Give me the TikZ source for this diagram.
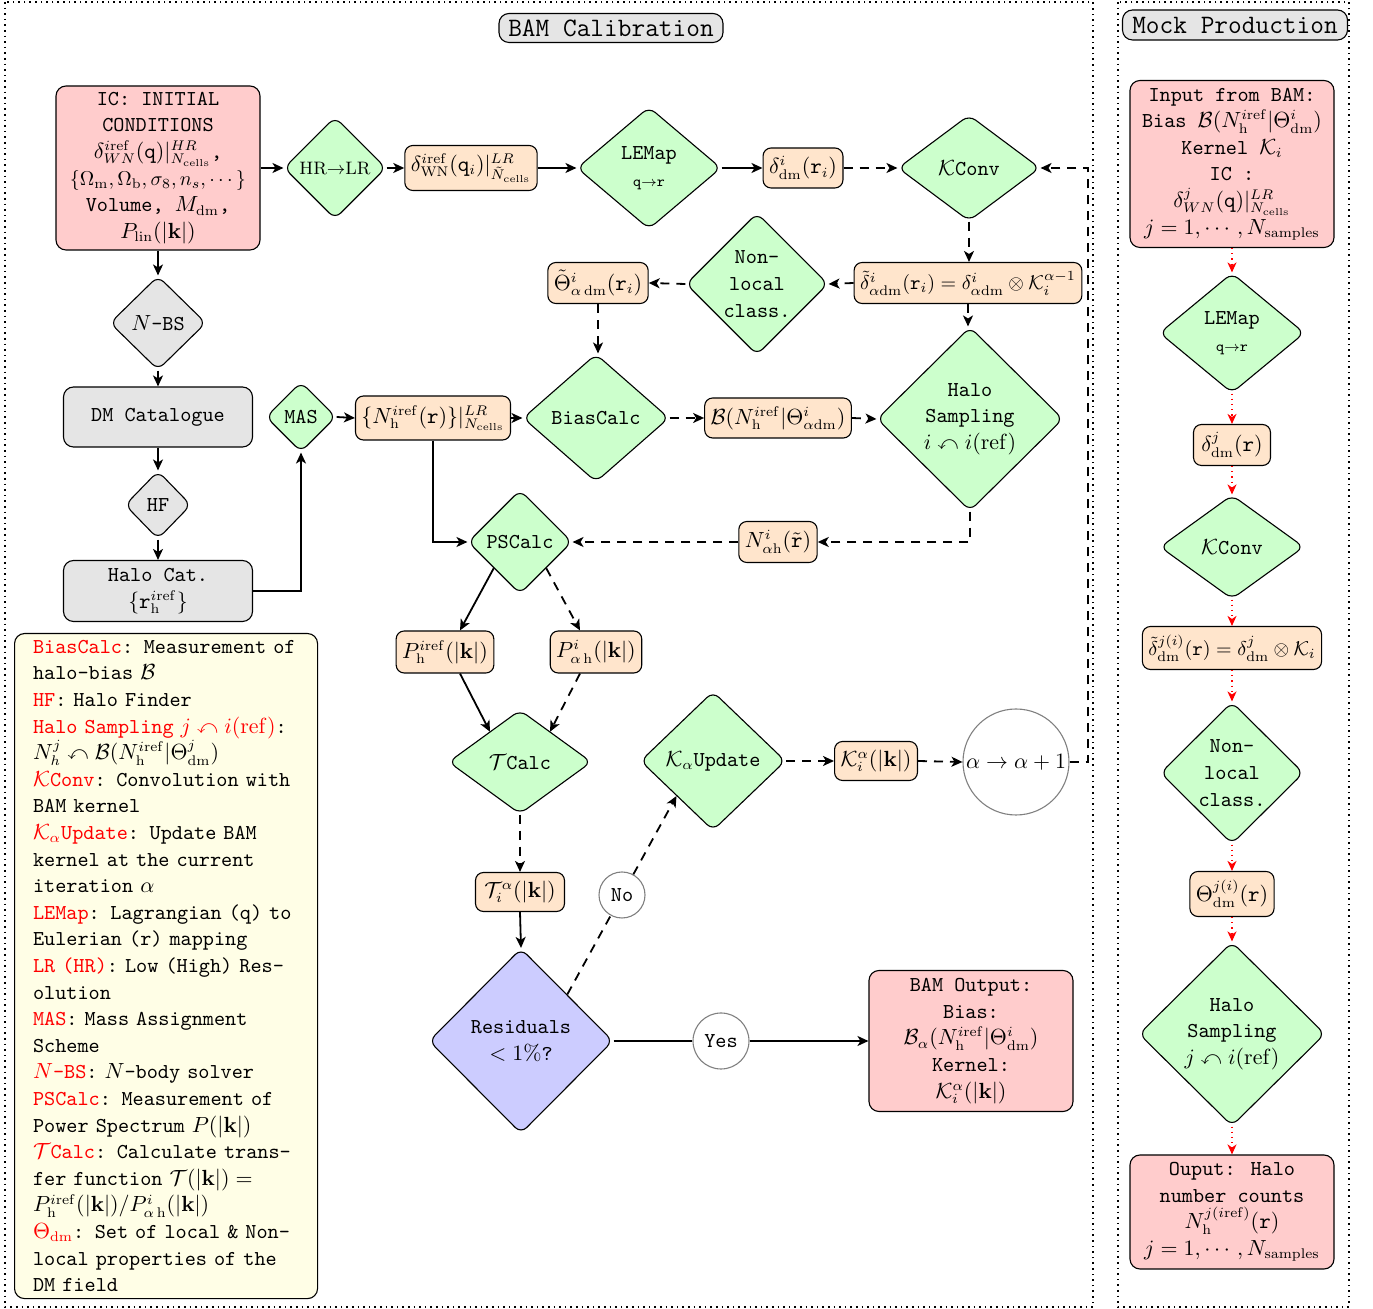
\documentclass[tikz,border=0pt]{standalone}
\usepackage{amsmath,amssymb}
\usetikzlibrary{shapes.geometric,arrows.meta,calc}
\begin{document}
\begin{tikzpicture}[x=0.5pt,y=-0.5pt]
\tikzset{
 nbase/.style={draw, line width=0.55pt, font=\fontsize{10.6}{13.3}\selectfont\ttfamily, align=center},
 io/.style={nbase, rounded corners=5pt, fill=red!20, inner sep=2pt},
 var/.style={nbase, rounded corners=4pt, fill=orange!20, inner xsep=3pt, inner ysep=2pt},
 cat/.style={nbase, rounded corners=5pt, fill=gray!20},
 op/.style={nbase, diamond, fill=green!20, rounded corners=4pt, inner sep=0pt},
 gop/.style={op, fill=gray!20},
 circ/.style={nbase, circle, draw=gray, inner sep=0pt},
 flow/.style={line width=0.9pt, -{Stealth[length=5.5pt,width=5pt,inset=1.5pt]}},
 dflow/.style={flow, dash pattern=on 4.5pt off 3.5pt},
 rflow/.style={red, dotted, line width=0.6pt, -{Stealth[length=5pt,width=4.5pt,inset=1.5pt]}},
 frame/.style={dotted, line width=0.8pt},
 titlebox/.style={nbase, rounded corners=5pt, fill=gray!20, font=\fontsize{13.3}{16}\selectfont\ttfamily, inner sep=2pt}
}
\useasboundingbox (0,0) rectangle (1373,1309);
% frames
\draw[frame] (5,2) rectangle (1093,1307);
\draw[frame] (1118,2) rectangle (1349,1307);
\node[titlebox, minimum width=112pt, minimum height=14.5pt] (t1) at (611,28) {BAM Calibration};
\node[titlebox, minimum width=112.5pt, minimum height=15pt] (t2) at (1235,25) {Mock Production};

% left column
\node[io, minimum width=102pt, minimum height=82pt] (ic) at (158,168) {IC: INITIAL\\CONDITIONS\\$\delta^{i\mathrm{ref}}_{WN}(\mathtt{q})|^{HR}_{N_{\mathrm{cells}}}$,\\{\fontsize{9.6}{13.3}\selectfont$\{\Omega_{\mathrm{m}},\Omega_{\mathrm{b}},\sigma_8,n_s,\cdots\}$}\\Volume, $M_{\mathrm{dm}}$,\\$P_{\mathrm{lin}}(|\mathbf{k}|)$};
\node[gop, minimum width=48pt, minimum height=47pt] (nbs) at (158,323) {$N$-BS};
\node[cat, minimum width=94.5pt, minimum height=30pt] (dm) at (158,417) {DM Catalogue};
\node[gop, minimum width=33pt, minimum height=34pt] (hf) at (158,505) {HF};
\node[cat, minimum width=94.5pt, minimum height=30.5pt] (hc) at (158,591) {Halo Cat.\\$\{\mathtt{r}^{i\mathrm{ref}}_{\mathrm{h}}\}$};

% top row
\node[op, minimum width=51pt, minimum height=51pt, font=\fontsize{9.2}{11}\selectfont] (hr) at (335,168) {$\mathrm{HR}{\rightarrow}\mathrm{LR}$};
\node[var, minimum width=62.5pt, minimum height=22.5pt] (d1) at (471,168) {$\delta^{i\mathrm{ref}}_{\mathrm{WN}}(\mathtt{q}_i)|^{LR}_{\tilde N_{\mathrm{cells}}}$};
\node[op, minimum width=72pt, minimum height=61pt] (lem) at (649,168) {LEMap\\{\fontsize{7.5}{9}\selectfont q$\to$r}};
\node[var, minimum width=38.5pt, minimum height=20pt] (d2) at (803,168) {$\delta^i_{\mathrm{dm}}(\mathtt{r}_i)$};
\node[op, minimum width=71pt, minimum height=53pt] (kc) at (969,168) {$\mathcal{K}$Conv};

% second row
\node[var, minimum width=111.5pt, minimum height=20.5pt, font=\fontsize{9.8}{12}\selectfont\ttfamily] (td) at (968,283) {$\tilde\delta^i_{\alpha\mathrm{dm}}(\mathtt{r}_i)=\delta^i_{\alpha\mathrm{dm}}\otimes\mathcal{K}^{\alpha-1}_i$};
\node[op, minimum width=71pt, minimum height=71pt] (nl) at (757,284) {Non-\\local\\class.};
\node[var, minimum width=47pt, minimum height=20.5pt] (tth) at (598,283) {$\tilde\Theta^i_{\alpha\,\mathrm{dm}}(\mathtt{r}_i)$};

% third row
\node[op, minimum width=35pt, minimum height=35pt] (mas) at (301,417) {MAS};
\node[var, minimum width=69pt, minimum height=22pt] (nh) at (433,418) {$\{N^{i\mathrm{ref}}_{\mathrm{h}}(\mathtt{r})\}|^{LR}_{N_{\mathrm{cells}}}$};
\node[op, minimum width=73pt, minimum height=64pt] (bc) at (596,418) {BiasCalc};
\node[var, minimum width=69pt, minimum height=20pt] (bb) at (778,418) {$\mathcal{B}(N^{i\mathrm{ref}}_{\mathrm{h}}|\Theta^i_{\alpha\mathrm{dm}})$};
\node[op, minimum width=93pt, minimum height=92pt] (hs) at (970,419) {Halo\\Sampling\\$i\curvearrowleft i(\mathrm{ref})$};

% fourth row
\node[var, minimum width=37.5pt, minimum height=20.5pt] (nah) at (778,542) {$N^i_{\alpha\mathrm{h}}(\tilde{\mathtt{r}})$};
\node[op, minimum width=52pt, minimum height=52pt] (ps) at (520,542) {PSCalc};
\node[var, minimum width=43.5pt, minimum height=21pt] (ph) at (445,652) {$P^{i\mathrm{ref}}_{\mathrm{h}}(|\mathbf{k}|)$};
\node[var, minimum width=41pt, minimum height=21pt] (pah) at (596,652) {$P^i_{\alpha\,\mathrm{h}}(|\mathbf{k}|)$};
\node[op, minimum width=71.5pt, minimum height=52pt] (tc) at (520,762) {$\mathcal{T}$Calc};
\node[op, minimum width=72.5pt, minimum height=69.5pt] (ku) at (713,761) {$\mathcal{K}_\alpha$Update};
\node[var, minimum width=39pt, minimum height=19.5pt] (ki) at (876,761) {$\mathcal{K}^\alpha_i(|\mathbf{k}|)$};
\node[circ, minimum size=53pt] (it) at (1016,762) {$\alpha\rightarrow\alpha+1$};
\coordinate (fb) at (1088,762);
\node[var, minimum width=44.5pt, minimum height=19.5pt] (tf) at (520,892) {$\mathcal{T}^\alpha_i(|\mathbf{k}|)$};
\node[circ, minimum size=23pt] (no) at (622,895) {No};
\node[op, fill=blue!20, minimum width=92pt, minimum height=92.5pt] (res) at (521,1041) {Residuals\\$<1\%$?};
\node[circ, minimum size=28pt] (yes) at (721,1041) {Yes};
\node[io, minimum width=102pt, minimum height=70.5pt] (out) at (971,1041) {BAM Output:\\Bias:\\$\mathcal{B}_\alpha(N^{i\mathrm{ref}}_{\mathrm{h}}|\Theta^i_{\mathrm{dm}})$\\Kernel:\\$\mathcal{K}^\alpha_i(|\mathbf{k}|)$};

% legend
\node[nbase, fill=yellow!10, rounded corners=5pt, anchor=north west, minimum width=151.5pt, minimum height=332.5pt, text width=133pt, align=left] (leg) at (14,633) {%
\textcolor{red}{BiasCalc}: Measurement of\\
halo-bias $\mathcal{B}$\\
\textcolor{red}{HF}: Halo Finder\\
\textcolor{red}{Halo Sampling $j\curvearrowleft i(\mathrm{ref})$}:\\
$N^j_h\curvearrowleft\mathcal{B}(N^{i\mathrm{ref}}_{\mathrm{h}}|\Theta^j_{\mathrm{dm}})$\\
\textcolor{red}{$\mathcal{K}$Conv}: Convolution with\\
BAM kernel\\
\textcolor{red}{$\mathcal{K}_\alpha$Update}: Update BAM\\
kernel at the current\\
iteration $\alpha$\\
\textcolor{red}{LEMap}: Lagrangian (q) to\\
Eulerian (r) mapping\\
\textcolor{red}{LR (HR)}: Low (High) Res-\\
olution\\
\textcolor{red}{MAS}: Mass Assignment\\
Scheme\\
\textcolor{red}{$N$-BS}: $N$-body solver\\
\textcolor{red}{PSCalc}: Measurement of\\
Power Spectrum $P(|\mathbf{k}|)$\\
\textcolor{red}{$\mathcal{T}$Calc}: Calculate trans-\\
fer function $\mathcal{T}(|\mathbf{k}|)=$\\
$P^{i\mathrm{ref}}_{\mathrm{h}}(|\mathbf{k}|)/P^i_{\alpha\,\mathrm{h}}(|\mathbf{k}|)$\\
\textcolor{red}{$\Theta_{\mathrm{dm}}$}: Set of local \& Non-\\
local properties of the\\
DM field};

% right column
\node[io, minimum width=102pt, minimum height=83.5pt] (ib) at (1232,164) {Input from BAM:\\Bias $\mathcal{B}(N^{i\mathrm{ref}}_{\mathrm{h}}|\Theta^i_{\mathrm{dm}})$\\Kernel $\mathcal{K}_i$\\IC :\\$\delta^j_{WN}(\mathtt{q})|^{LR}_{N_{\mathrm{cells}}}$\\$j=1,\cdots,N_{\mathrm{samples}}$};
\node[op, minimum width=72.5pt, minimum height=60pt] (lem2) at (1232,333) {LEMap\\{\fontsize{7.5}{9}\selectfont q$\to$r}};
\node[var, minimum width=38.5pt, minimum height=20.5pt] (dj) at (1232,445) {$\delta^j_{\mathrm{dm}}(\mathtt{r})$};
\node[op, minimum width=72pt, minimum height=52pt] (kc2) at (1232,547) {$\mathcal{K}$Conv};
\node[var, minimum width=84.5pt, minimum height=21.5pt, font=\fontsize{9.8}{12}\selectfont\ttfamily] (tdj) at (1232,648) {$\tilde\delta^{j(i)}_{\mathrm{dm}}(\mathtt{r})=\delta^j_{\mathrm{dm}}\otimes\mathcal{K}_i$};
\node[op, minimum width=71.5pt, minimum height=71pt] (nl2) at (1232,773) {Non-\\local\\class.};
\node[var, minimum width=39.5pt, minimum height=22.5pt] (thj) at (1232,894) {$\Theta^{j(i)}_{\mathrm{dm}}(\mathtt{r})$};
\node[op, minimum width=93pt, minimum height=92pt] (hs2) at (1232,1034) {Halo\\Sampling\\$j\curvearrowleft i(\mathrm{ref})$};
\node[io, minimum width=102pt, minimum height=57pt] (ob) at (1232,1212) {Ouput: Halo\\number counts\\$N^{j(i\mathrm{ref})}_{\mathrm{h}}(\mathtt{r})$\\$j=1,\cdots,N_{\mathrm{samples}}$};

% connectors left
\draw[flow] (ic.east) -- (hr.west);
\draw[flow] (hr.east) -- (d1.west);
\draw[flow] (d1.east) -- (lem.west);
\draw[flow] (lem.east) -- (d2.west);
\draw[dflow] (d2.east) -- (kc.west);
\draw[dflow] (kc.south) -- (kc.south |- td.north);
\draw[dflow] (td.west) -- (nl.east);
\draw[dflow] (nl.west) -- (tth.east);
\draw[dflow] (tth.south) -- (tth.south |- bc.north);
\draw[dflow] (td.south) -- (td.south |- hs.north);
\draw[flow] (ic.south) -- (nbs.north);
\draw[flow] (nbs.south) -- (dm.north);
\draw[flow] (dm.south) -- (hf.north);
\draw[flow] (hf.south) -- (hc.north);
\draw[flow] (hc.east) -| (mas.south);
\draw[flow] (mas.east) -- (nh.west);
\draw[flow] (nh.east) -- (bc.west);
\draw[dflow] (bc.east) -- (bb.west);
\draw[dflow] (bb.east) -- (hs.west);
\draw[dflow] (hs.south) |- (nah.east);
\draw[dflow] (nah.west) -- (ps.east);
\draw[flow] (nh.south) |- (ps.west);
\draw[flow] (ps.south west) -- ($(ph.north)+(7.5pt,0)$);
\draw[dflow] (ps.south east) -- ($(pah.north)+(-8pt,0)$);
\draw[flow] ($(ph.south)+(7.5pt,0)$) -- ($(tc.north west)+(3pt,2pt)$);
\draw[dflow] ($(pah.south)+(-8pt,0)$) -- ($(tc.north east)+(-3pt,2pt)$);
\draw[dflow] (tc.south) -- (tf.north);
\draw[flow] (tf.south) -- (res.north);
\draw[dflow] (res.north east) -- (no) -- (ku.south west);
\draw[flow] (res) -- (yes) -- (out);
\draw[dflow] (ku.east) -- (ki.west);
\draw[dflow] (ki.east) -- (it.west);
\draw[dflow] (it.east) -- (fb) |- (kc.east);

% connectors right
\draw[rflow] (ib.south) -- (lem2.north);
\draw[rflow] (lem2.south) -- (dj.north);
\draw[rflow] (dj.south) -- (kc2.north);
\draw[rflow] (kc2.south) -- (tdj.north);
\draw[rflow] (tdj.south) -- (nl2.north);
\draw[rflow] (nl2.south) -- (thj.north);
\draw[rflow] (thj.south) -- (hs2.north);
\draw[rflow] (hs2.south) -- (ob.north);
\end{tikzpicture}
\end{document}
